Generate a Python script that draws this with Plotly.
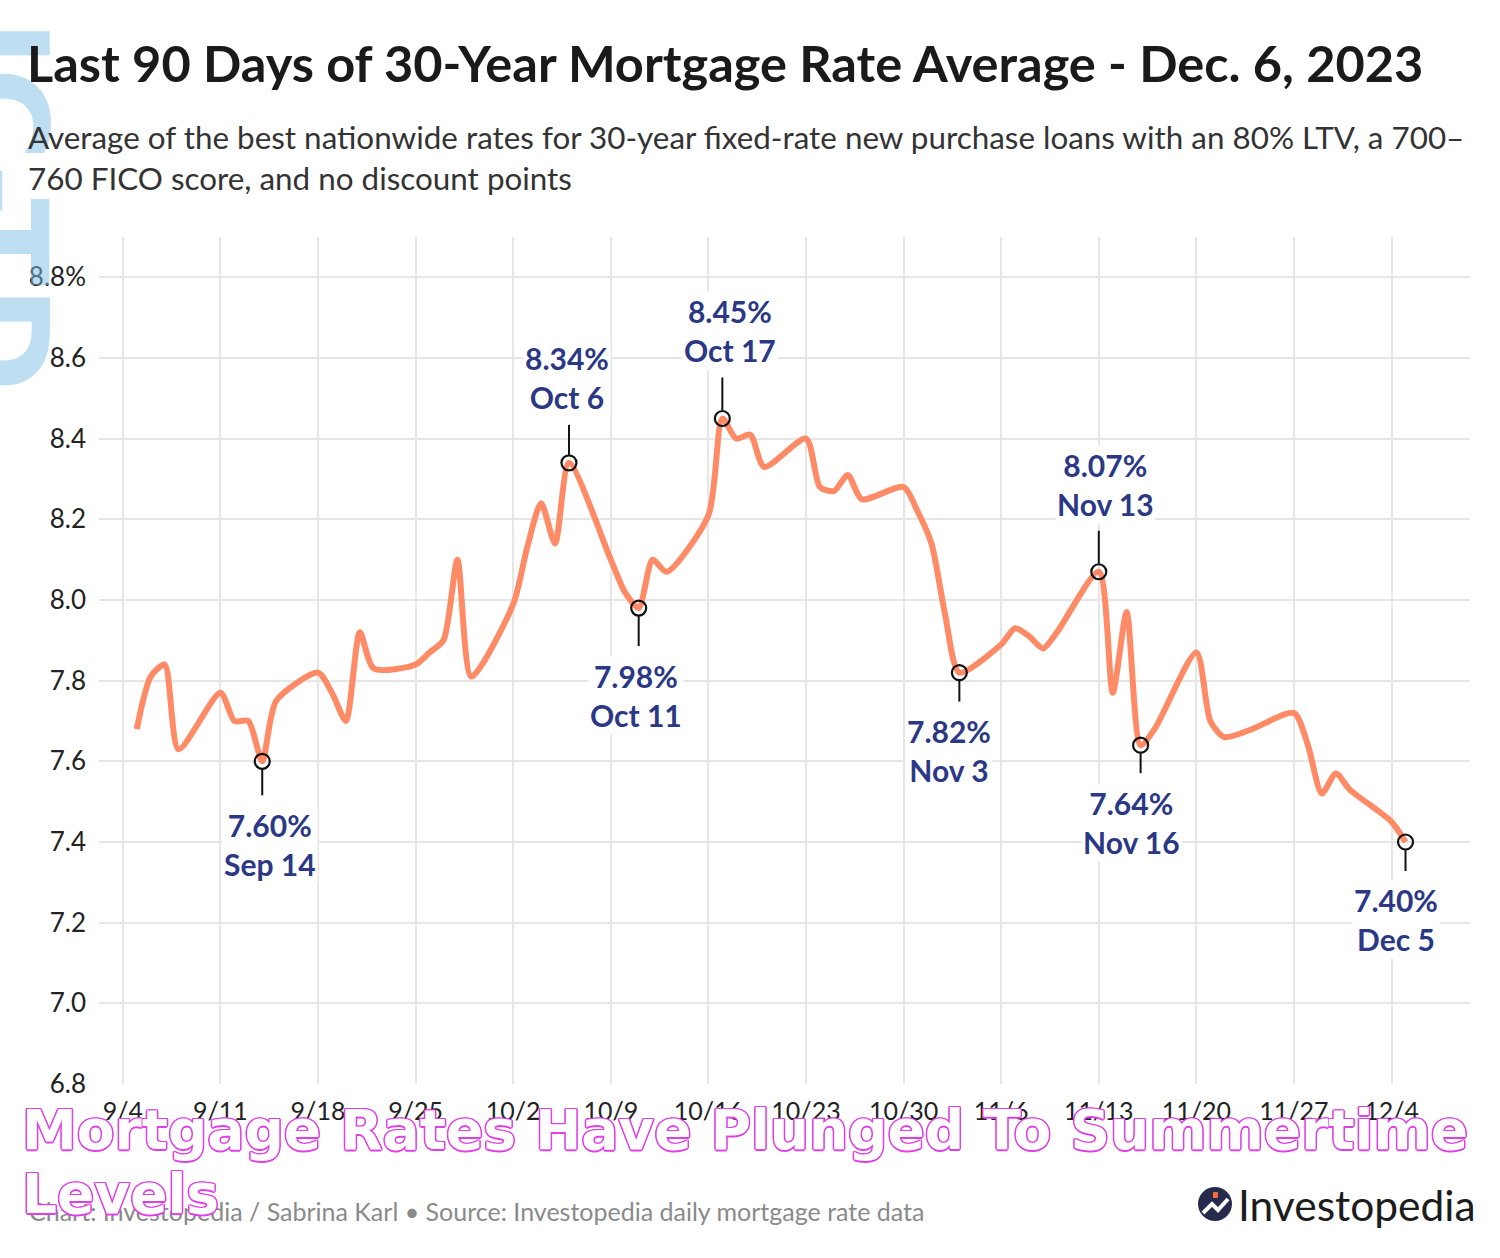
import plotly.graph_objects as go

# ---------------- data ----------------
dates = [
    "2023-09-05", "2023-09-06", "2023-09-07", "2023-09-08",
    "2023-09-11", "2023-09-12", "2023-09-13", "2023-09-14", "2023-09-15",
    "2023-09-18", "2023-09-19", "2023-09-20", "2023-09-21", "2023-09-22",
    "2023-09-25", "2023-09-26", "2023-09-27", "2023-09-28", "2023-09-29",
    "2023-10-02", "2023-10-03", "2023-10-04", "2023-10-05", "2023-10-06",
    "2023-10-09", "2023-10-10", "2023-10-11", "2023-10-12", "2023-10-13",
    "2023-10-16", "2023-10-17", "2023-10-18", "2023-10-19", "2023-10-20",
    "2023-10-23", "2023-10-24", "2023-10-25", "2023-10-26", "2023-10-27",
    "2023-10-30", "2023-10-31", "2023-11-01", "2023-11-02", "2023-11-03",
    "2023-11-06", "2023-11-07", "2023-11-08", "2023-11-09", "2023-11-10",
    "2023-11-13", "2023-11-14", "2023-11-15", "2023-11-16", "2023-11-17",
    "2023-11-20", "2023-11-21", "2023-11-22", "2023-11-24",
    "2023-11-27", "2023-11-28", "2023-11-29", "2023-11-30", "2023-12-01",
    "2023-12-04", "2023-12-05",
]
rates = [
    7.68, 7.81, 7.84, 7.63,
    7.77, 7.70, 7.70, 7.60, 7.75,
    7.82, 7.77, 7.70, 7.92, 7.83,
    7.84, 7.87, 7.90, 8.10, 7.81,
    7.99, 8.13, 8.24, 8.14, 8.34,
    8.10, 8.02, 7.98, 8.10, 8.07,
    8.21, 8.45, 8.40, 8.41, 8.33,
    8.40, 8.28, 8.27, 8.31, 8.25,
    8.28, 8.22, 8.14, 7.96, 7.82,
    7.89, 7.93, 7.91, 7.88, 7.92,
    8.07, 7.77, 7.97, 7.64, 7.68,
    7.87, 7.70, 7.66, 7.68,
    7.72, 7.64, 7.52, 7.57, 7.53,
    7.45, 7.40,
]

x_tick_vals = ["2023-09-04", "2023-09-11", "2023-09-18", "2023-09-25",
               "2023-10-02", "2023-10-09", "2023-10-16", "2023-10-23",
               "2023-10-30", "2023-11-06", "2023-11-13", "2023-11-20",
               "2023-11-27", "2023-12-04"]
x_tick_text = ["9/4", "9/11", "9/18", "9/25", "10/2", "10/9", "10/16", "10/23",
               "10/30", "11/6", "11/13", "11/20", "11/27", "12/4"]
y_tick_vals = [6.8, 7.0, 7.2, 7.4, 7.6, 7.8, 8.0, 8.2, 8.4, 8.6, 8.8]
y_tick_text = ["6.8", "7.0", "7.2", "7.4", "7.6", "7.8", "8.0", "8.2", "8.4", "8.6", "8.8%"]

callout_dates = ["2023-09-14", "2023-10-06", "2023-10-11", "2023-10-17",
                 "2023-11-03", "2023-11-13", "2023-11-16", "2023-12-05"]
callout_names = ["Sep 14", "Oct 6", "Oct 11", "Oct 17", "Nov 3", "Nov 13", "Nov 16", "Dec 5"]

# label placement (layout only): side, x shift, y shift, leader length (px)
callout_layout = [
    ("down", 8, -83, 34),
    ("up", -2, 85, 38),
    ("down", -3, -87, 38),
    ("up", 8, 88, 41),
    ("down", -10, -78, 29),
    ("up", 7, 87, 41),
    ("down", -9, -77, 28),
    ("down", -10, -77, 29),
]

# ---------------- figure ----------------
W, H = 1500, 1258
L, R, T, B = 99, 30, 237, 174
PW, PH = W - L - R, H - T - B


def pxx(p):
    return (p - L) / PW


def pxy(p):
    return (H - B - p) / PH


FONT = "Lato"
LINE_COLOR = "#FF8A66"
NAVY = "#2B3886"

rate_of = dict(zip(dates, rates))
callout_vals = [rate_of[d] for d in callout_dates]

fig = go.Figure()
fig.add_trace(go.Scatter(
    x=dates, y=rates, mode="lines",
    line=dict(color=LINE_COLOR, width=6, shape="spline", smoothing=0.7),
    hoverinfo="skip", showlegend=False,
))
fig.add_trace(go.Scatter(
    x=callout_dates, y=callout_vals, mode="markers",
    marker=dict(symbol="circle-open", size=15, color="#111111", line=dict(width=2.2)),
    hoverinfo="skip", showlegend=False,
))

annotations = []
shapes = []
for d, v, name, (side, xs, ys, ll) in zip(callout_dates, callout_vals, callout_names, callout_layout):
    sgn = 1 if side == "up" else -1
    shapes.append(dict(
        type="line", xref="x", yref="y", ysizemode="pixel", yanchor=v,
        x0=d, x1=d, y0=sgn * 8, y1=sgn * ll,
        line=dict(color="#111111", width=2),
    ))
    annotations.append(dict(
        x=d, y=v, xref="x", yref="y", showarrow=False,
        text=f"<b>{v:.2f}%</b><br><b>{name}</b>",
        xshift=xs, yshift=ys, xanchor="center", yanchor="middle",
        font=dict(family=FONT, size=30, color=NAVY),
        bgcolor="white", borderpad=1, align="center",
    ))

# watermark (under the title text)
annotations.append(dict(
    xref="paper", yref="paper", x=pxx(76), y=pxy(205), xanchor="right", yanchor="middle",
    text="<b>IC-TD</b>", textangle=90,
    showarrow=False, font=dict(family="DejaVu Sans", size=128, color="rgba(125,190,230,0.5)"),
))
# title & subtitle
annotations.append(dict(
    xref="paper", yref="paper", x=pxx(25), y=pxy(62), xanchor="left", yanchor="middle",
    text="<b>Last 90 Days of 30-Year Mortgage Rate Average - Dec. 6, 2023</b>",
    showarrow=False, font=dict(family=FONT, size=50.5, color="#1A1A1A"),
))
annotations.append(dict(
    xref="paper", yref="paper", x=pxx(26), y=pxy(137), xanchor="left", yanchor="middle",
    text="Average of the best nationwide rates for 30-year fixed-rate new purchase loans with an 80% LTV, a 700–",
    showarrow=False, font=dict(family=FONT, size=31.4, color="#333333"),
))
annotations.append(dict(
    xref="paper", yref="paper", x=pxx(26), y=pxy(178), xanchor="left", yanchor="middle",
    text="760 FICO score, and no discount points",
    showarrow=False, font=dict(family=FONT, size=31.4, color="#333333"),
))
# footer
annotations.append(dict(
    xref="paper", yref="paper", x=pxx(27), y=pxy(1211), xanchor="left", yanchor="middle",
    text="Chart: Investopedia / Sabrina Karl • Source: Investopedia daily mortgage rate data",
    showarrow=False, font=dict(family=FONT, size=25, color="#8A8A8A"),
))
# logo text
annotations.append(dict(
    xref="paper", yref="paper", x=pxx(1236), y=pxy(1204), xanchor="left", yanchor="middle",
    text="Investopedia",
    showarrow=False, font=dict(family=FONT, size=42.5, color="#1C1C1C"),
))
# overlay headline
outline = "#E03EE6"
shadow = ", ".join(f"{dx}px {dy}px 0 {outline}" for dx, dy in
                   [(1.5, 0), (-1.5, 0), (0, 1.5), (0, -1.5), (1, 1), (-1, 1), (1, -1), (-1, -1)])
annotations.append(dict(
    xref="paper", yref="paper", x=pxx(20), y=pxy(1130), xanchor="left", yanchor="middle",
    text="<b>Mortgage Rates Have Plunged To Summertime</b>",
    showarrow=False, font=dict(family="DejaVu Sans", size=55, color="white", shadow=shadow),
))
annotations.append(dict(
    xref="paper", yref="paper", x=pxx(20), y=pxy(1194), xanchor="left", yanchor="middle",
    text="<b>Levels</b>",
    showarrow=False, font=dict(family="DejaVu Sans", size=55, color="white", shadow=shadow),
))

# logo icon
shapes.append(dict(type="circle", xref="paper", yref="paper",
                   x0=pxx(1198), x1=pxx(1232), y0=pxy(1221), y1=pxy(1187),
                   fillcolor="#262A4C", line=dict(width=0)))
shapes.append(dict(type="path", xref="paper", yref="paper",
                   path=f"M {pxx(1203)} {pxy(1213)} L {pxx(1212)} {pxy(1204)} L {pxx(1218)} {pxy(1210)} L {pxx(1228)} {pxy(1199)}",
                   line=dict(color="white", width=4)))
shapes.append(dict(type="rect", xref="paper", yref="paper",
                   x0=pxx(1213), x1=pxx(1218), y0=pxy(1198), y1=pxy(1192),
                   fillcolor="#F26B3A", line=dict(width=0)))

fig.update_layout(
    width=W, height=H, autosize=False,
    margin=dict(l=L, r=R, t=T, b=B),
    paper_bgcolor="white", plot_bgcolor="white",
    font=dict(family=FONT, size=24, color="#222222"),
    annotations=annotations, shapes=shapes,
    xaxis=dict(
        type="date", range=["2023-09-02 07:00", "2023-12-09 15:00"],
        tickvals=x_tick_vals, ticktext=x_tick_text,
        showgrid=True, gridcolor="#E6E6E6", gridwidth=2,
        zeroline=False, showline=False, ticks="", ticklabelstandoff=10,
        tickfont=dict(family=FONT, size=25, color="#222222"),
    ),
    yaxis=dict(
        range=[6.8, 8.9],
        tickvals=y_tick_vals, ticktext=y_tick_text,
        showgrid=True, gridcolor="#E6E6E6", gridwidth=2,
        zeroline=False, showline=False, ticks="", ticklabelstandoff=12,
        tickfont=dict(family=FONT, size=26, color="#222222"),
    ),
)

fig.write_html("out.html")
